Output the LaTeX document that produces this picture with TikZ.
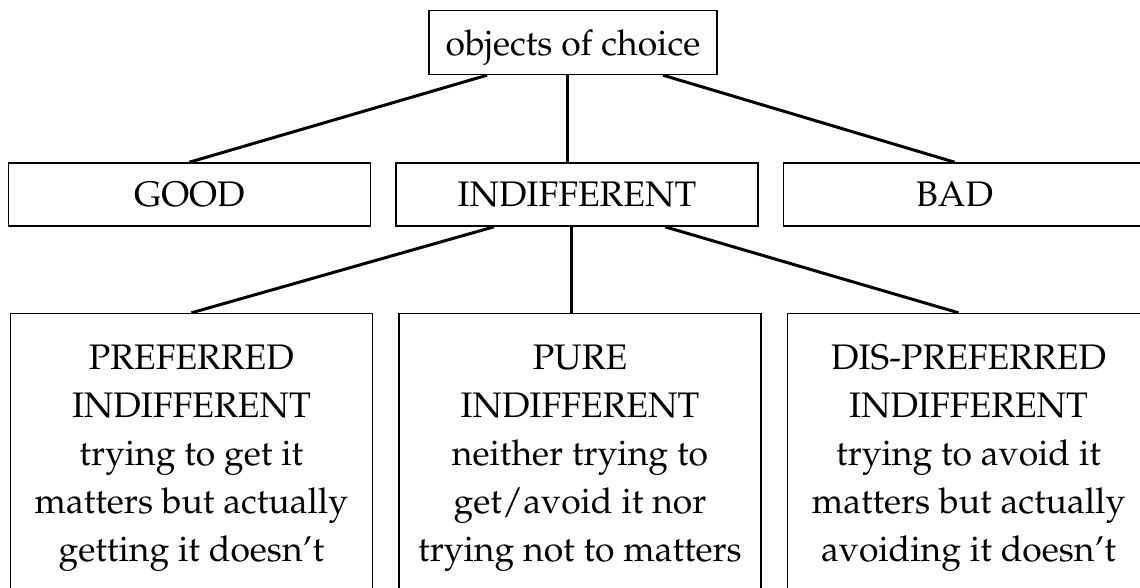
\documentclass[tikz,border=0pt]{standalone}
\usepackage[T1]{fontenc}
\usepackage{mathpazo}
\usetikzlibrary{positioning}

\begin{document}
\begin{tikzpicture}[
  x=1pt, y=-1pt,
  every node/.style={font=\fontsize{35.5}{48}\selectfont},
  catbox/.style={
    draw, line width=1.6pt, minimum width=362pt,
    minimum height=63pt, inner sep=0pt
  },
  leafbox/.style={
    draw, line width=1.6pt, minimum width=362pt,
    align=center, inner xsep=0pt, inner ysep=31.5pt
  },
  branch/.style={draw, line width=3pt}
]
  \useasboundingbox (0,0) rectangle (1140,587);

  \node[catbox] (indiff) at (577,194.5) {INDIFFERENT};
  \node[catbox] (good)   [left=24pt of indiff]  {GOOD};
  \node[catbox] (bad)    [right=24pt of indiff] {BAD\hspace*{20pt}};
  \node[draw, line width=1.6pt, minimum width=288pt, minimum height=64pt,
        inner sep=0pt, text depth=0pt] (choice)
    [above=87pt of indiff, xshift=-4pt] {objects of choice};

  \node[leafbox, anchor=north] (pure) [below=86pt of indiff, xshift=3pt]
    {PURE\\INDIFFERENT\\neither trying to\\get/avoid it nor\\trying not to matters};
  \node[leafbox] (pref) [left=25pt of pure]
    {PREFERRED\\INDIFFERENT\\trying to get it\\matters but actually\\getting it doesn't};
  \node[leafbox] (dispref) [right=25pt of pure]
    {DIS-PREFERRED\\INDIFFERENT\\trying to avoid it\\matters but actually\\avoiding it doesn't};

  % first level
  \draw[branch] ([xshift=-86pt]choice.south) -- (good.north);
  \draw[branch] ([xshift=-10pt]indiff.north) -- ([xshift=-10pt]indiff.north |- choice.south);
  \draw[branch] ([xshift=90pt]choice.south) -- ([xshift=-10pt]bad.north);

  % second level
  \draw[branch] ([xshift=-83pt]indiff.south) -- (pref.north);
  \draw[branch] ([xshift=-9pt]pure.north) -- ([xshift=-9pt]pure.north |- indiff.south);
  \draw[branch] ([xshift=88pt]indiff.south) -- ([xshift=-10pt]dispref.north);
\end{tikzpicture}
\end{document}
